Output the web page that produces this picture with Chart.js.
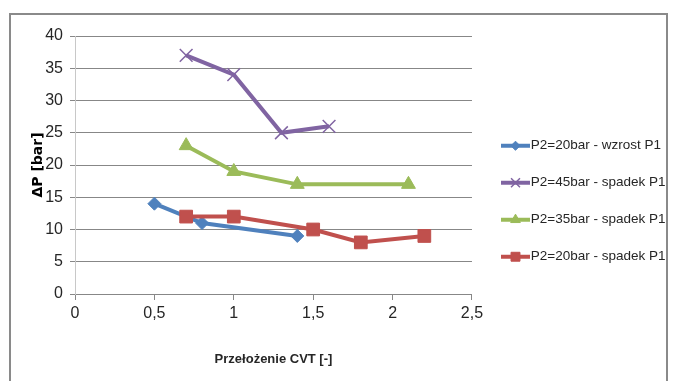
<!DOCTYPE html>
<html>
<head>
<meta charset="utf-8">
<script src="https://cdn.jsdelivr.net/npm/chart.js@4.4.1/dist/chart.umd.min.js"></script>
<style>
  body { margin: 0; background: #fff; overflow: hidden; }
  #frame { position: absolute; left: 9px; top: 13px; width: 659px; height: 420px;
           border: 2px solid #8a8a8a; border-bottom: none; box-sizing: border-box; }
  #wrap { position: absolute; left: 0; top: 0; width: 673px; height: 381px; }
</style>
</head>
<body>
<div id="frame"></div>
<div id="wrap"><canvas id="cvtChart" width="673" height="381"></canvas></div>
<script>
// series names
const seriesNames = [
    'P2=20bar - wzrost P1',
    'P2=45bar - spadek P1',
    'P2=35bar - spadek P1',
    'P2=20bar - spadek P1'
];

const blueX = [0.5, 0.8, 1.4];
const blueY = [14, 11, 9];
const purpleX = [0.7, 1.0, 1.3, 1.6];
const purpleY = [37, 34, 25, 26];
const greenX = [0.7, 1.0, 1.4, 2.1];
const greenY = [23, 19, 17, 17];
const redX = [0.7, 1.0, 1.5, 1.8, 2.2];
const redY = [12, 12, 10, 8, 9];

const xTicks = [0, 0.5, 1, 1.5, 2, 2.5];
const yTicks = [0, 5, 10, 15, 20, 25, 30, 35, 40];

const colors = ['#4F81BD', '#8064A2', '#9BBB59', '#C0504D'];
const markers = ['rectRot', 'crossRot', 'triangle', 'rect'];
const markerSize = [6.5, 9, 8, 9];

function toPoints(xs, ys) {
    return xs.map(function(x, i) { return {x: x, y: ys[i]}; });
}

const allX = [blueX, purpleX, greenX, redX];
const allY = [blueY, purpleY, greenY, redY];

let datasets = [];
for (let i = 0; i < seriesNames.length; i++) {
    datasets.push({
        label: seriesNames[i],
        data: toPoints(allX[i], allY[i]),
        borderColor: colors[i],
        backgroundColor: colors[i],
        borderWidth: 4,
        pointStyle: markers[i],
        pointRadius: markerSize[i],
        pointHoverRadius: markerSize[i],
        pointBackgroundColor: colors[i],
        pointBorderColor: colors[i],
        pointBorderWidth: markers[i] == 'crossRot' ? 1.5 : 1,
        tension: 0,
        order: seriesNames.length - 1 - i,
        clip: false
    });
}

const font = "'Liberation Sans', Arial, sans-serif";
const legendPad = 23.5;

// line + marker in the legend, like excel does
const legendSamples = {
    id: 'legendSamples',
    afterLayout(chart) {
        const lg = chart.legend;
        lg.left = 501 - legendPad; lg.right = chart.width;
        lg.top = 139 - legendPad; lg.bottom = chart.height;
    },
    afterDraw(chart) {
        const lg = chart.legend;
        const ctx = chart.ctx;
        lg.legendItems.forEach(function(item, i) {
            const hb = lg.legendHitBoxes[i];
            const ds = chart.data.datasets[item.datasetIndex];
            const cy = hb.top + hb.height / 2;
            ctx.save();
            ctx.strokeStyle = ds.borderColor;
            ctx.fillStyle = ds.borderColor;
            ctx.lineWidth = 4;
            ctx.beginPath();
            ctx.moveTo(hb.left, cy);
            ctx.lineTo(hb.left + 29, cy);
            ctx.stroke();
            ctx.lineWidth = ds.pointBorderWidth;
            Chart.helpers.drawPoint(ctx, {
                pointStyle: ds.pointStyle,
                radius: ds.pointRadius * 0.7,
                borderWidth: ds.pointBorderWidth,
                rotation: 0
            }, hb.left + 14.5, cy);
            ctx.restore();
        });
    }
};

const ctx = document.getElementById('cvtChart').getContext('2d');
const cvtChart = new Chart(ctx, {
    type: 'line',
    data: { datasets: datasets },
    plugins: [legendSamples],
    options: {
        responsive: false,
        animation: false,
        layout: { padding: { top: 36, right: 43.7, bottom: 0, left: 0 } },
        plugins: {
            tooltip: { enabled: false },
            legend: {
                position: 'right',
                align: 'start',
                labels: {
                    boxWidth: 23,
                    boxHeight: 4,
                    padding: legendPad,
                    color: '#262626',
                    font: { family: font, size: 13.5 },
                    sort: function(a, b) { return a.datasetIndex - b.datasetIndex; },
                    generateLabels: function(chart) {
                        const items = Chart.defaults.plugins.legend.labels.generateLabels(chart);
                        items.forEach(function(it) {
                            it.fillStyle = 'rgba(0,0,0,0)';
                            it.strokeStyle = 'rgba(0,0,0,0)';
                            it.lineWidth = 0;
                        });
                        return items;
                    }
                }
            }
        },
        scales: {
            x: {
                type: 'linear',
                min: 0,
                max: 2.5,
                afterBuildTicks: function(scale) {
                    scale.ticks = xTicks.map(function(v) { return {value: v}; });
                },
                afterFit: function(scale) { scale.height = 87; },
                grid: { drawOnChartArea: false, color: '#878787', tickLength: 6 },
                border: { color: '#878787' },
                ticks: {
                    padding: 4,
                    color: '#262626',
                    font: { family: font, size: 16 },
                    callback: function(v) { return String(v).replace('.', ','); }
                },
                title: {
                    display: true,
                    text: 'Przełożenie CVT [-]',
                    color: '#262626',
                    font: { family: font, size: 13, weight: 'bold' },
                    padding: { top: 0, bottom: 14 }
                }
            },
            y: {
                min: 0,
                max: 40,
                afterBuildTicks: function(scale) {
                    scale.ticks = yTicks.map(function(v) { return {value: v}; });
                },
                afterFit: function(scale) { scale.width = 75; },
                grid: { color: '#878787', tickLength: 5 },
                border: { color: '#c8c8c8' },
                ticks: {
                    padding: 7,
                    color: '#262626',
                    font: { family: font, size: 16 }
                },
                title: {
                    display: true,
                    text: 'ΔP [bar]',
                    color: '#000',
                    font: { family: "'DejaVu Sans', sans-serif", size: 14, weight: 'bold' },
                    padding: { top: 30, bottom: 0 }
                }
            }
        }
    }
});
</script>
</body>
</html>
